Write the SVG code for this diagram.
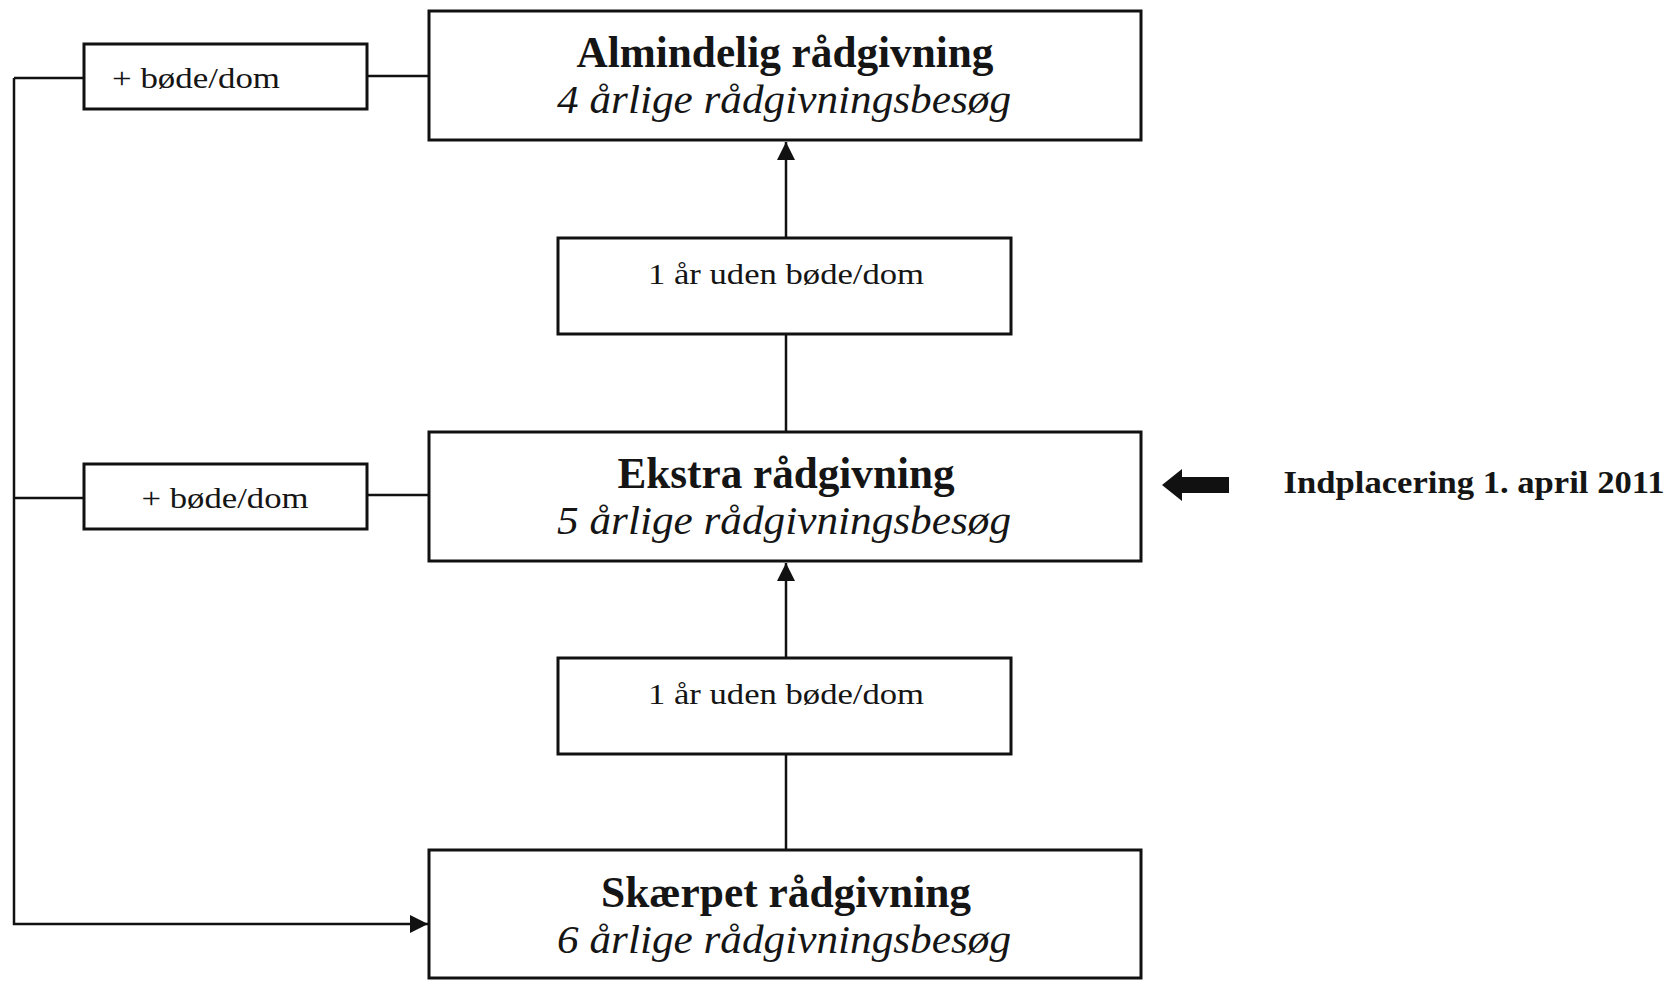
<svg xmlns="http://www.w3.org/2000/svg" width="1673" height="981" viewBox="0 0 1673 981">
<style>
.box{fill:#fff;stroke:#111;stroke-width:3}
.ln{fill:none;stroke:#111;stroke-width:2.5}
text{fill:#151515;text-anchor:middle}
.b{font-weight:bold;font-size:44px}
.i{font-style:italic;font-size:41px}
.s{font-size:30px}
</style>
<defs>
<marker id="ah2" viewBox="0 0 10 10" refX="10" refY="5" markerWidth="18" markerHeight="18" markerUnits="userSpaceOnUse" orient="auto">
<path d="M0,0 L10,5 L0,10 z" fill="#111"/>
</marker>
</defs>
<g id="connectors">
<path class="ln" d="M14,78 V924 H428" marker-end="url(#ah2)"/>
<path class="ln" d="M14,78 H84"/>
<path class="ln" d="M367,76 H429"/>
<path class="ln" d="M14,498 H84"/>
<path class="ln" d="M367,495 H429"/>
<path class="ln" d="M786,238 V142" marker-end="url(#ah2)"/>
<path class="ln" d="M786,432 V334"/>
<path class="ln" d="M786,658 V563" marker-end="url(#ah2)"/>
<path class="ln" d="M786,850 V754"/>
</g>
<g id="almindelig" font-family="Liberation Serif, Times New Roman, Tinos, Nimbus Roman, FreeSerif, serif">
<rect class="box" x="429" y="11" width="712" height="129"/>
<text class="b" x="785" y="67" textLength="417" lengthAdjust="spacingAndGlyphs">Almindelig rådgivning</text>
<text class="i" x="784" y="113" textLength="454" lengthAdjust="spacingAndGlyphs">4 årlige rådgivningsbesøg</text>
</g>
<g id="boede1" font-family="Liberation Serif, Times New Roman, serif">
<rect class="box" x="84" y="44" width="283" height="65"/>
<text class="s" x="196" y="88" textLength="168" lengthAdjust="spacingAndGlyphs">+ bøde/dom</text>
</g>
<g id="aar1" font-family="Liberation Serif, Times New Roman, serif">
<rect class="box" x="558" y="238" width="453" height="96"/>
<text class="s" x="786" y="284" textLength="276" lengthAdjust="spacingAndGlyphs">1 år uden bøde/dom</text>
</g>
<g id="ekstra" font-family="Liberation Serif, Times New Roman, serif">
<rect class="box" x="429" y="432" width="712" height="129"/>
<text class="b" x="786" y="488" textLength="337" lengthAdjust="spacingAndGlyphs">Ekstra rådgivning</text>
<text class="i" x="784" y="534" textLength="454" lengthAdjust="spacingAndGlyphs">5 årlige rådgivningsbesøg</text>
</g>
<g id="boede2" font-family="Liberation Serif, Times New Roman, serif">
<rect class="box" x="84" y="464" width="283" height="65"/>
<text class="s" x="225" y="508" textLength="167" lengthAdjust="spacingAndGlyphs">+ bøde/dom</text>
</g>
<g id="aar2" font-family="Liberation Serif, Times New Roman, serif">
<rect class="box" x="558" y="658" width="453" height="96"/>
<text class="s" x="786" y="704" textLength="276" lengthAdjust="spacingAndGlyphs">1 år uden bøde/dom</text>
</g>
<g id="skaerpet" font-family="Liberation Serif, Times New Roman, serif">
<rect class="box" x="429" y="850" width="712" height="128"/>
<text class="b" x="786" y="907" textLength="370" lengthAdjust="spacingAndGlyphs">Skærpet rådgivning</text>
<text class="i" x="784" y="953" textLength="454" lengthAdjust="spacingAndGlyphs">6 årlige rådgivningsbesøg</text>
</g>
<g id="indplacering" font-family="Liberation Serif, Times New Roman, serif">
<path d="M1162,485 L1182,469 L1182,477 L1229,477 L1229,493 L1182,493 L1182,501 z" fill="#111"/>
<text x="1474" y="493" style="font-weight:bold;font-size:32px" textLength="381" lengthAdjust="spacingAndGlyphs">Indplacering 1. april 2011</text>
</g>
</svg>
